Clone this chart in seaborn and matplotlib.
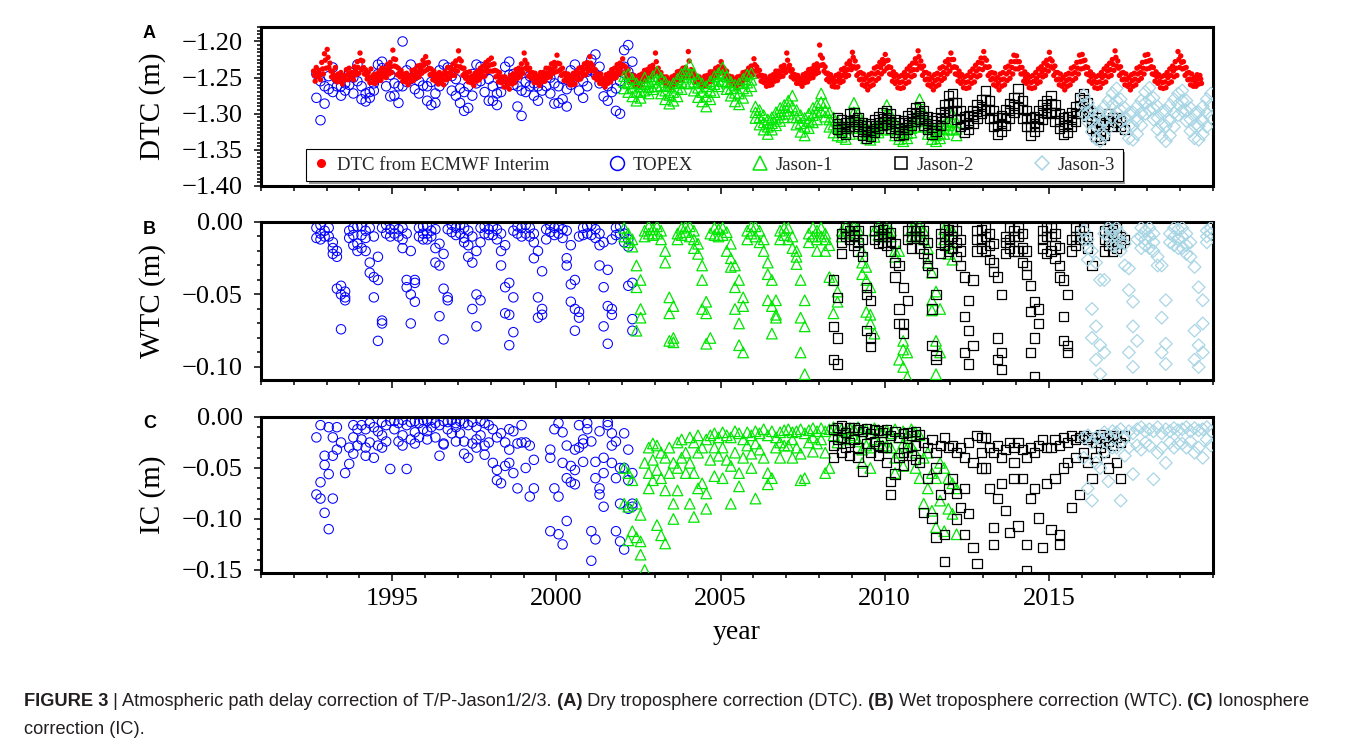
import numpy as np
import pandas as pd
import matplotlib
matplotlib.use("Agg")
import matplotlib.pyplot as plt
from matplotlib.lines import Line2D
from matplotlib.ticker import FixedLocator, MultipleLocator, FuncFormatter
import seaborn as sns

nan = np.nan

# ---------------- data ----------------
# ECMWF dry troposphere: one row per year, 12 monthly values, three samples per month
ecmwf_years = list(range(1992, 2020))
dtc_ecmwf_hi = [
    [nan, nan, nan, nan, nan, nan, nan, -1.241, -1.236, -1.240, -1.229, -1.217],
    [-1.211, -1.230, -1.241, -1.236, -1.245, -1.243, -1.247, -1.239, -1.237, -1.243, -1.235, -1.228],
    [-1.216, -1.227, -1.239, -1.243, -1.238, -1.246, -1.245, -1.241, -1.237, -1.238, -1.232, -1.229],
    [-1.212, -1.225, -1.237, -1.240, -1.245, -1.244, -1.247, -1.240, -1.239, -1.234, -1.233, -1.226],
    [-1.221, -1.229, -1.238, -1.241, -1.246, -1.243, -1.247, -1.242, -1.236, -1.236, -1.231, -1.227],
    [-1.213, -1.227, -1.237, -1.243, -1.242, -1.248, -1.244, -1.241, -1.237, -1.234, -1.229, -1.226],
    [-1.223, -1.231, -1.241, -1.243, -1.249, -1.249, -1.253, -1.247, -1.245, -1.239, -1.237, -1.231],
    [-1.216, -1.231, -1.237, -1.243, -1.244, -1.248, -1.243, -1.243, -1.237, -1.237, -1.231, -1.229],
    [-1.219, -1.231, -1.237, -1.244, -1.245, -1.249, -1.244, -1.242, -1.237, -1.236, -1.231, -1.229],
    [-1.221, -1.233, -1.239, -1.245, -1.245, -1.251, -1.246, -1.244, -1.239, -1.237, -1.232, -1.230],
    [-1.224, -1.235, -1.239, -1.246, -1.247, -1.251, -1.247, -1.245, -1.240, -1.239, -1.235, -1.233],
    [-1.216, -1.237, -1.243, -1.249, -1.249, -1.253, -1.249, -1.247, -1.242, -1.241, -1.237, -1.236],
    [-1.214, -1.239, -1.243, -1.248, -1.249, -1.253, -1.248, -1.247, -1.242, -1.242, -1.237, -1.235],
    [-1.228, -1.237, -1.241, -1.248, -1.249, -1.253, -1.249, -1.248, -1.243, -1.242, -1.237, -1.234],
    [-1.224, -1.235, -1.240, -1.247, -1.248, -1.252, -1.248, -1.246, -1.241, -1.241, -1.235, -1.233],
    [-1.216, -1.233, -1.239, -1.246, -1.247, -1.251, -1.246, -1.244, -1.239, -1.238, -1.233, -1.231],
    [-1.205, -1.223, -1.235, -1.244, -1.246, -1.251, -1.247, -1.245, -1.239, -1.237, -1.231, -1.227],
    [-1.215, -1.227, -1.235, -1.243, -1.245, -1.250, -1.246, -1.244, -1.237, -1.235, -1.229, -1.225],
    [-1.218, -1.226, -1.236, -1.242, -1.246, -1.249, -1.247, -1.243, -1.238, -1.234, -1.230, -1.224],
    [-1.213, -1.227, -1.234, -1.243, -1.245, -1.250, -1.246, -1.244, -1.237, -1.235, -1.228, -1.225],
    [-1.216, -1.225, -1.236, -1.241, -1.246, -1.249, -1.247, -1.242, -1.238, -1.233, -1.229, -1.223],
    [-1.214, -1.226, -1.235, -1.243, -1.244, -1.250, -1.245, -1.243, -1.236, -1.234, -1.228, -1.219],
    [-1.220, -1.228, -1.236, -1.242, -1.246, -1.249, -1.247, -1.243, -1.238, -1.235, -1.230, -1.226],
    [-1.215, -1.227, -1.234, -1.243, -1.245, -1.250, -1.246, -1.244, -1.237, -1.235, -1.229, -1.219],
    [-1.218, -1.226, -1.236, -1.242, -1.246, -1.249, -1.247, -1.243, -1.238, -1.234, -1.230, -1.225],
    [-1.213, -1.227, -1.235, -1.243, -1.245, -1.250, -1.246, -1.244, -1.237, -1.235, -1.229, -1.219],
    [-1.218, -1.226, -1.236, -1.242, -1.246, -1.249, -1.247, -1.243, -1.238, -1.234, -1.228, -1.214],
    [-1.220, -1.228, -1.236, -1.243, -1.245, -1.250, -1.246, -1.247, nan, nan, nan, nan],
]
dtc_ecmwf_mid = [
    [nan, nan, nan, nan, nan, nan, nan, -1.247, -1.244, -1.246, -1.238, -1.226],
    [-1.222, -1.241, -1.246, -1.249, -1.250, -1.252, -1.248, -1.246, -1.244, -1.247, -1.241, -1.236],
    [-1.226, -1.236, -1.246, -1.250, -1.249, -1.252, -1.250, -1.247, -1.244, -1.243, -1.239, -1.235],
    [-1.224, -1.235, -1.244, -1.247, -1.251, -1.252, -1.250, -1.247, -1.245, -1.242, -1.238, -1.233],
    [-1.230, -1.237, -1.245, -1.248, -1.252, -1.250, -1.253, -1.247, -1.244, -1.241, -1.239, -1.234],
    [-1.224, -1.237, -1.244, -1.249, -1.250, -1.254, -1.250, -1.247, -1.243, -1.241, -1.236, -1.233],
    [-1.232, -1.240, -1.248, -1.250, -1.256, -1.256, -1.259, -1.253, -1.251, -1.245, -1.243, -1.238],
    [-1.226, -1.239, -1.244, -1.250, -1.251, -1.254, -1.250, -1.249, -1.244, -1.243, -1.238, -1.235],
    [-1.230, -1.239, -1.245, -1.250, -1.252, -1.255, -1.251, -1.248, -1.244, -1.242, -1.238, -1.235],
    [-1.230, -1.241, -1.246, -1.251, -1.252, -1.257, -1.252, -1.250, -1.245, -1.244, -1.239, -1.237],
    [-1.233, -1.242, -1.247, -1.252, -1.254, -1.256, -1.254, -1.250, -1.247, -1.244, -1.242, -1.238],
    [-1.228, -1.245, -1.249, -1.254, -1.255, -1.258, -1.254, -1.253, -1.248, -1.247, -1.243, -1.242],
    [-1.227, -1.244, -1.250, -1.252, -1.256, -1.257, -1.254, -1.251, -1.248, -1.246, -1.243, -1.240],
    [-1.235, -1.244, -1.248, -1.253, -1.255, -1.258, -1.254, -1.253, -1.248, -1.247, -1.243, -1.240],
    [-1.232, -1.241, -1.247, -1.252, -1.255, -1.256, -1.254, -1.250, -1.247, -1.245, -1.241, -1.238],
    [-1.226, -1.241, -1.245, -1.252, -1.252, -1.256, -1.252, -1.250, -1.245, -1.244, -1.239, -1.237],
    [-1.219, -1.232, -1.244, -1.250, -1.254, -1.257, -1.255, -1.251, -1.247, -1.243, -1.239, -1.233],
    [-1.222, -1.237, -1.244, -1.252, -1.253, -1.259, -1.254, -1.252, -1.245, -1.243, -1.236, -1.231],
    [-1.227, -1.235, -1.246, -1.249, -1.255, -1.257, -1.256, -1.250, -1.247, -1.241, -1.239, -1.230],
    [-1.221, -1.237, -1.243, -1.252, -1.253, -1.259, -1.254, -1.252, -1.246, -1.243, -1.237, -1.232],
    [-1.225, -1.235, -1.246, -1.249, -1.255, -1.257, -1.256, -1.250, -1.247, -1.241, -1.238, -1.230],
    [-1.223, -1.236, -1.244, -1.251, -1.253, -1.258, -1.253, -1.252, -1.245, -1.242, -1.236, -1.228],
    [-1.228, -1.236, -1.245, -1.250, -1.255, -1.257, -1.255, -1.251, -1.247, -1.242, -1.239, -1.233],
    [-1.224, -1.237, -1.243, -1.252, -1.253, -1.259, -1.254, -1.252, -1.245, -1.243, -1.237, -1.228],
    [-1.227, -1.235, -1.246, -1.249, -1.255, -1.257, -1.256, -1.250, -1.247, -1.241, -1.239, -1.232],
    [-1.222, -1.237, -1.244, -1.252, -1.253, -1.259, -1.254, -1.252, -1.245, -1.243, -1.237, -1.228],
    [-1.227, -1.235, -1.246, -1.249, -1.255, -1.257, -1.256, -1.250, -1.247, -1.241, -1.237, -1.225],
    [-1.229, -1.237, -1.244, -1.252, -1.253, -1.256, -1.252, -1.252, nan, nan, nan, nan],
]
dtc_ecmwf_lo = [
    [nan, nan, nan, nan, nan, nan, nan, -1.255, -1.249, -1.253, -1.245, -1.237],
    [-1.236, -1.249, -1.253, -1.256, -1.255, -1.259, -1.253, -1.253, -1.249, -1.253, -1.246, -1.244],
    [-1.239, -1.245, -1.252, -1.257, -1.257, -1.258, -1.254, -1.254, -1.249, -1.250, -1.245, -1.243],
    [-1.234, -1.246, -1.249, -1.255, -1.256, -1.260, -1.255, -1.254, -1.250, -1.249, -1.244, -1.241],
    [-1.239, -1.246, -1.253, -1.255, -1.259, -1.256, -1.260, -1.253, -1.251, -1.247, -1.247, -1.241],
    [-1.235, -1.247, -1.251, -1.256, -1.257, -1.261, -1.255, -1.253, -1.249, -1.248, -1.242, -1.241],
    [-1.241, -1.249, -1.256, -1.257, -1.263, -1.263, -1.266, -1.259, -1.257, -1.251, -1.249, -1.244],
    [-1.237, -1.248, -1.251, -1.257, -1.257, -1.261, -1.256, -1.255, -1.250, -1.249, -1.244, -1.242],
    [-1.241, -1.247, -1.254, -1.255, -1.260, -1.260, -1.259, -1.253, -1.252, -1.247, -1.246, -1.241],
    [-1.239, -1.250, -1.253, -1.258, -1.259, -1.263, -1.258, -1.256, -1.251, -1.250, -1.245, -1.244],
    [-1.243, -1.249, -1.255, -1.257, -1.262, -1.261, -1.261, -1.255, -1.254, -1.249, -1.249, -1.244],
    [-1.239, -1.253, -1.255, -1.260, -1.261, -1.264, -1.260, -1.259, -1.254, -1.253, -1.249, -1.248],
    [-1.241, -1.249, -1.256, -1.257, -1.262, -1.261, -1.261, -1.256, -1.255, -1.250, -1.249, -1.244],
    [-1.241, -1.251, -1.254, -1.259, -1.260, -1.264, -1.259, -1.258, -1.253, -1.253, -1.248, -1.246],
    [-1.241, -1.248, -1.255, -1.257, -1.262, -1.261, -1.260, -1.255, -1.254, -1.249, -1.248, -1.243],
    [-1.237, -1.249, -1.252, -1.258, -1.258, -1.262, -1.257, -1.256, -1.251, -1.250, -1.245, -1.243],
    [-1.233, -1.241, -1.253, -1.256, -1.262, -1.263, -1.263, -1.257, -1.255, -1.249, -1.247, -1.239],
    [-1.235, -1.247, -1.253, -1.260, -1.262, -1.267, -1.262, -1.260, -1.254, -1.251, -1.245, -1.241],
    [-1.237, -1.245, -1.255, -1.258, -1.264, -1.265, -1.264, -1.258, -1.256, -1.249, -1.247, -1.239],
    [-1.234, -1.247, -1.253, -1.260, -1.262, -1.267, -1.262, -1.260, -1.254, -1.251, -1.245, -1.241],
    [-1.236, -1.245, -1.255, -1.258, -1.264, -1.265, -1.264, -1.258, -1.256, -1.249, -1.247, -1.239],
    [-1.235, -1.247, -1.253, -1.260, -1.262, -1.267, -1.262, -1.260, -1.254, -1.251, -1.245, -1.238],
    [-1.238, -1.245, -1.255, -1.258, -1.264, -1.265, -1.264, -1.258, -1.256, -1.249, -1.247, -1.241],
    [-1.235, -1.247, -1.253, -1.260, -1.262, -1.267, -1.262, -1.260, -1.254, -1.251, -1.245, -1.238],
    [-1.237, -1.245, -1.255, -1.258, -1.264, -1.265, -1.264, -1.258, -1.256, -1.249, -1.247, -1.240],
    [-1.234, -1.247, -1.253, -1.260, -1.262, -1.267, -1.262, -1.260, -1.254, -1.251, -1.245, -1.238],
    [-1.237, -1.245, -1.255, -1.258, -1.264, -1.265, -1.264, -1.258, -1.256, -1.249, -1.247, -1.236],
    [-1.238, -1.247, -1.253, -1.260, -1.262, -1.262, -1.259, -1.258, nan, nan, nan, nan],
]

# altimeter series: one row per year, 8 samples per year
topex_years = list(range(1992, 2003))
jason1_years = list(range(2002, 2013))
jason2_years = list(range(2008, 2018))
jason3_years = list(range(2016, 2020))

topex_dtc_a = [
    [nan, nan, nan, nan, nan, -1.245, -1.255, -1.262],
    [-1.248, -1.236, -1.252, -1.262, -1.258, -1.242, -1.250, -1.232],
    [-1.262, -1.272, -1.278, -1.258, -1.232, -1.228, -1.240, -1.246],
    [-1.258, -1.262, -1.200, -1.240, -1.232, -1.248, -1.255, -1.236],
    [-1.262, -1.256, -1.272, -1.240, -1.232, -1.236, -1.248, -1.252],
    [-1.265, -1.270, -1.262, -1.245, -1.232, -1.235, -1.242, -1.252],
    [-1.262, -1.272, -1.258, -1.235, -1.228, -1.245, -1.262, -1.268],
    [-1.256, -1.248, -1.258, -1.262, -1.252, -1.245, -1.250, -1.258],
    [-1.262, -1.252, -1.266, -1.240, -1.232, -1.248, -1.255, -1.242],
    [-1.225, -1.218, -1.235, -1.255, -1.262, -1.248, -1.265, -1.255],
    [-1.212, -1.205, -1.228, nan, nan, nan, nan, nan],
]
topex_dtc_b = [
    [nan, nan, nan, nan, nan, -1.278, -1.309, -1.286],
    [-1.266, -1.270, -1.262, -1.275, -1.268, -1.260, -1.272, -1.255],
    [-1.280, -1.283, -1.270, -1.268, -1.245, -1.237, -1.262, -1.276],
    [-1.275, -1.285, -1.262, -1.256, -1.252, -1.266, -1.272, -1.261],
    [-1.282, -1.288, -1.285, -1.262, -1.255, -1.244, -1.268, -1.275],
    [-1.285, -1.296, -1.292, -1.275, -1.258, -1.255, -1.270, -1.282],
    [-1.282, -1.288, -1.270, -1.255, -1.246, -1.260, -1.290, -1.303],
    [-1.270, -1.262, -1.275, -1.282, -1.268, -1.262, -1.272, -1.286],
    [-1.285, -1.280, -1.290, -1.260, -1.248, -1.268, -1.278, -1.262],
    [-1.240, -1.245, -1.258, -1.276, -1.282, -1.270, -1.296, -1.300],
    [-1.235, -1.242, -1.250, nan, nan, nan, nan, nan],
]
jason1_dtc_a = [
    [-1.248, -1.245, -1.252, -1.258, -1.262, -1.250, -1.255, -1.248],
    [-1.242, -1.250, -1.256, -1.262, -1.258, -1.252, -1.245, -1.240],
    [-1.232, -1.245, -1.252, -1.258, -1.262, -1.255, -1.248, -1.244],
    [-1.236, -1.248, -1.256, -1.260, -1.258, -1.252, -1.246, -1.244],
    [-1.290, -1.295, -1.302, -1.308, -1.305, -1.298, -1.292, -1.288],
    [-1.282, -1.275, -1.295, -1.302, -1.306, -1.300, -1.292, -1.288],
    [-1.272, -1.285, -1.298, -1.305, -1.310, -1.315, -1.318, -1.312],
    [-1.285, -1.300, -1.310, -1.318, -1.322, -1.318, -1.315, -1.310],
    [-1.288, -1.302, -1.312, -1.318, -1.322, -1.320, -1.314, -1.305],
    [-1.280, -1.298, -1.310, -1.318, -1.322, -1.320, -1.315, -1.310],
    [-1.300, -1.312, nan, nan, nan, nan, nan, nan],
]
jason1_dtc_b = [
    [-1.265, -1.270, -1.276, -1.282, -1.278, -1.268, -1.272, -1.266],
    [-1.262, -1.272, -1.280, -1.286, -1.282, -1.276, -1.266, -1.258],
    [-1.258, -1.268, -1.277, -1.283, -1.290, -1.280, -1.270, -1.262],
    [-1.255, -1.266, -1.275, -1.283, -1.287, -1.278, -1.268, -1.262],
    [-1.306, -1.315, -1.322, -1.328, -1.322, -1.316, -1.310, -1.305],
    [-1.300, -1.305, -1.315, -1.325, -1.330, -1.320, -1.312, -1.308],
    [-1.296, -1.304, -1.318, -1.326, -1.330, -1.332, -1.335, -1.328],
    [-1.312, -1.320, -1.328, -1.334, -1.336, -1.332, -1.326, -1.322],
    [-1.310, -1.322, -1.330, -1.335, -1.338, -1.334, -1.326, -1.318],
    [-1.305, -1.318, -1.328, -1.335, -1.338, -1.334, -1.328, -1.322],
    [-1.322, -1.330, nan, nan, nan, nan, nan, nan],
]
jason1_dtc_c = [
    [-1.256, -1.258, -1.264, -1.270, -1.270, -1.259, -1.263, -1.257],
    [-1.252, -1.261, -1.268, -1.274, -1.270, -1.264, -1.256, -1.249],
    [-1.245, -1.256, -1.264, -1.270, -1.276, -1.268, -1.259, -1.253],
    [-1.246, -1.257, -1.265, -1.271, -1.272, -1.265, -1.257, -1.253],
    [-1.298, -1.305, -1.312, -1.318, -1.313, -1.307, -1.301, -1.296],
    [-1.291, -1.290, -1.305, -1.313, -1.318, -1.310, -1.302, -1.298],
    [-1.284, -1.295, -1.308, -1.315, -1.320, -1.323, -1.326, -1.320],
    [-1.298, -1.310, -1.319, -1.326, -1.329, -1.325, -1.320, -1.316],
    [-1.299, -1.312, -1.321, -1.326, -1.330, -1.327, -1.320, -1.311],
    [-1.292, -1.308, -1.319, -1.326, -1.330, -1.327, -1.321, -1.316],
    [-1.311, -1.321, nan, nan, nan, nan, nan, nan],
]
jason2_dtc_a = [
    [nan, nan, nan, nan, -1.305, -1.308, -1.312, -1.300],
    [-1.298, -1.305, -1.312, -1.316, -1.314, -1.308, -1.304, -1.298],
    [-1.296, -1.300, -1.308, -1.312, -1.310, -1.302, -1.298, -1.292],
    [-1.290, -1.296, -1.304, -1.310, -1.306, -1.298, -1.288, -1.275],
    [-1.272, -1.285, -1.296, -1.304, -1.302, -1.295, -1.288, -1.280],
    [-1.268, -1.282, -1.295, -1.305, -1.302, -1.294, -1.286, -1.278],
    [-1.265, -1.282, -1.296, -1.306, -1.304, -1.296, -1.288, -1.282],
    [-1.275, -1.288, -1.300, -1.306, -1.304, -1.298, -1.290, -1.278],
    [-1.272, -1.285, -1.298, -1.305, -1.312, nan, -1.300, nan],
    [-1.305, -1.310, -1.322, nan, nan, nan, nan, nan],
]
jason2_dtc_b = [
    [nan, nan, nan, nan, -1.322, -1.326, -1.328, -1.318],
    [-1.318, -1.324, -1.330, -1.334, -1.332, -1.326, -1.320, -1.316],
    [-1.315, -1.320, -1.326, -1.330, -1.328, -1.322, -1.316, -1.310],
    [-1.308, -1.316, -1.322, -1.328, -1.324, -1.316, -1.306, -1.298],
    [-1.296, -1.308, -1.318, -1.326, -1.322, -1.314, -1.306, -1.300],
    [-1.295, -1.306, -1.318, -1.328, -1.324, -1.316, -1.306, -1.298],
    [-1.292, -1.306, -1.318, -1.330, -1.325, -1.318, -1.308, -1.300],
    [-1.298, -1.310, -1.320, -1.328, -1.326, -1.318, -1.310, -1.300],
    [-1.290, -1.304, -1.320, -1.332, -1.336, -1.330, nan, -1.318],
    [nan, nan, nan, nan, nan, nan, nan, nan],
]
jason2_dtc_c = [
    [nan, nan, nan, nan, -1.314, -1.318, -1.320, -1.310],
    [-1.308, -1.315, -1.321, -1.325, -1.323, -1.317, -1.312, -1.307],
    [-1.306, -1.311, -1.317, -1.321, -1.319, -1.312, -1.307, -1.300],
    [-1.299, -1.306, -1.313, -1.319, -1.315, -1.307, -1.297, -1.286],
    [-1.284, -1.296, -1.307, -1.315, -1.312, -1.304, -1.297, -1.290],
    [-1.281, -1.294, -1.306, -1.316, -1.313, -1.305, -1.296, -1.288],
    [-1.278, -1.294, -1.307, -1.318, -1.314, -1.307, -1.298, -1.291],
    [-1.286, -1.299, -1.310, -1.317, -1.315, -1.308, -1.300, -1.289],
    [-1.281, -1.295, -1.309, -1.318, -1.324, -1.315, -1.310, -1.305],
    [-1.312, -1.318, nan, nan, nan, nan, nan, nan],
]
jason3_dtc_a = [
    [-1.275, -1.285, -1.295, -1.300, -1.298, -1.290, -1.282, -1.272],
    [-1.265, -1.280, -1.292, -1.300, -1.298, -1.290, -1.282, -1.270],
    [-1.264, -1.278, -1.290, -1.298, -1.296, -1.288, -1.280, -1.272],
    [-1.268, -1.282, -1.292, -1.300, -1.298, -1.290, -1.280, -1.272],
]
jason3_dtc_b = [
    [-1.300, -1.312, -1.325, -1.335, -1.338, -1.330, -1.320, -1.305],
    [-1.298, -1.310, -1.322, -1.334, -1.336, -1.328, -1.316, -1.300],
    [-1.295, -1.308, -1.322, -1.332, -1.338, -1.330, -1.318, -1.302],
    [-1.296, -1.310, -1.324, -1.334, -1.336, -1.328, -1.318, -1.305],
]
jason3_dtc_c = [
    [-1.288, -1.298, -1.310, -1.318, -1.318, -1.310, -1.300, -1.288],
    [-1.282, -1.295, -1.307, -1.317, -1.317, -1.309, -1.299, -1.285],
    [-1.280, -1.293, -1.306, -1.315, -1.317, -1.309, -1.299, -1.287],
    [-1.282, -1.296, -1.308, -1.317, -1.317, -1.309, -1.299, -1.288],
]

topex_wtc_a = [
    [nan, nan, nan, nan, nan, -0.004, -0.002, -0.006],
    [-0.004, -0.014, -0.020, -0.044, -0.048, -0.006, -0.004, -0.003],
    [-0.003, -0.006, -0.004, -0.010, -0.024, -0.004, -0.002, -0.005],
    [-0.002, -0.005, -0.004, -0.008, -0.020, -0.040, -0.004, -0.003],
    [-0.003, -0.006, -0.005, -0.015, -0.022, -0.005, -0.002, -0.004],
    [-0.002, -0.004, -0.006, -0.010, -0.020, -0.004, -0.003, -0.005],
    [-0.003, -0.005, -0.008, -0.016, -0.042, -0.006, -0.003, -0.004],
    [-0.002, -0.004, -0.008, -0.020, -0.034, -0.005, -0.002, -0.004],
    [-0.003, -0.005, -0.006, -0.016, -0.040, -0.010, -0.004, -0.003],
    [-0.002, -0.005, -0.008, -0.014, -0.033, -0.012, -0.004, -0.003],
    [-0.008, -0.012, -0.042, nan, nan, nan, nan, nan],
]
topex_wtc_b = [
    [nan, nan, nan, nan, nan, -0.011, -0.008, -0.010],
    [-0.010, -0.018, -0.024, -0.050, -0.054, -0.011, -0.009, -0.015],
    [-0.009, -0.011, -0.028, -0.038, -0.040, -0.068, -0.008, -0.010],
    [-0.008, -0.010, -0.012, -0.040, -0.050, -0.055, -0.010, -0.008],
    [-0.008, -0.010, -0.018, -0.030, -0.046, -0.052, -0.007, -0.009],
    [-0.008, -0.011, -0.016, -0.028, -0.050, -0.014, -0.008, -0.009],
    [-0.009, -0.012, -0.020, -0.045, -0.064, -0.052, -0.008, -0.010],
    [-0.008, -0.010, -0.014, -0.052, -0.060, -0.012, -0.007, -0.009],
    [-0.008, -0.011, -0.025, -0.043, -0.060, -0.062, -0.009, -0.008],
    [-0.009, -0.011, -0.016, -0.045, -0.058, -0.060, -0.009, -0.008],
    [-0.014, -0.017, -0.067, nan, nan, nan, nan, nan],
]
topex_wtc_c = [
    [nan, nan, nan, nan, nan, nan, -0.012, nan],
    [nan, -0.022, -0.046, -0.074, -0.052, nan, -0.016, -0.020],
    [-0.018, -0.020, -0.035, -0.052, -0.082, -0.070, nan, nan],
    [nan, nan, -0.018, -0.045, -0.070, -0.042, nan, -0.012],
    [-0.012, nan, -0.028, -0.065, -0.081, -0.054, nan, nan],
    [nan, -0.014, -0.024, -0.060, -0.072, -0.054, nan, nan],
    [nan, nan, -0.030, -0.063, -0.085, -0.076, nan, nan],
    [nan, nan, -0.025, -0.066, -0.064, nan, nan, nan],
    [nan, nan, -0.030, -0.055, -0.075, -0.066, nan, nan],
    [nan, nan, -0.030, -0.072, -0.084, -0.064, nan, nan],
    [nan, -0.044, -0.075, nan, nan, nan, nan, nan],
]
jason1_wtc_a = [
    [-0.004, -0.008, -0.012, -0.030, -0.040, -0.006, -0.003, -0.005],
    [-0.003, -0.006, -0.020, -0.052, -0.058, -0.008, -0.004, -0.003],
    [-0.003, -0.006, -0.015, -0.030, -0.055, -0.008, -0.004, -0.005],
    [-0.004, -0.007, -0.015, -0.030, -0.040, -0.052, -0.006, -0.003],
    [-0.003, -0.006, -0.012, -0.028, -0.040, -0.054, -0.006, -0.004],
    [-0.004, -0.010, -0.020, -0.040, -0.054, -0.008, -0.004, -0.006],
    [-0.004, -0.008, -0.016, -0.040, -0.055, -0.006, -0.003, -0.004],
    [-0.003, -0.005, -0.020, -0.031, -0.045, -0.006, -0.003, -0.005],
    [-0.004, -0.006, -0.020, -0.020, -0.082, -0.090, -0.005, -0.004],
    [-0.003, -0.006, -0.018, -0.035, -0.048, -0.060, -0.005, -0.006],
    [-0.006, nan, nan, nan, nan, nan, nan, nan],
]
jason1_wtc_b = [
    [-0.010, -0.014, -0.017, -0.045, -0.060, -0.010, -0.008, -0.009],
    [-0.008, -0.012, -0.028, -0.063, -0.080, -0.012, -0.009, -0.007],
    [-0.010, -0.012, -0.022, -0.040, -0.063, -0.080, -0.009, -0.010],
    [-0.009, -0.020, -0.025, -0.045, -0.070, -0.058, -0.012, -0.008],
    [-0.010, -0.014, -0.020, -0.036, -0.058, -0.066, -0.012, -0.009],
    [-0.012, -0.018, -0.029, -0.066, -0.072, -0.014, -0.010, -0.012],
    [-0.010, -0.012, -0.038, -0.063, -0.048, -0.010, -0.008, -0.007],
    [-0.008, -0.010, -0.028, -0.062, -0.070, -0.077, -0.009, -0.010],
    [-0.008, -0.010, -0.024, -0.095, -0.100, -0.107, -0.010, -0.009],
    [-0.010, -0.012, -0.028, -0.054, -0.082, -0.090, -0.012, -0.015],
    [-0.018, nan, nan, nan, nan, nan, nan, nan],
]
jason1_wtc_c = [
    [nan, nan, nan, -0.075, -0.066, nan, nan, nan],
    [nan, nan, nan, -0.082, -0.083, nan, nan, nan],
    [nan, -0.018, nan, -0.060, -0.084, nan, nan, nan],
    [nan, nan, -0.031, -0.060, -0.085, -0.090, nan, nan],
    [nan, nan, nan, -0.054, -0.077, -0.064, nan, nan],
    [nan, nan, -0.024, -0.090, -0.105, nan, nan, -0.020],
    [nan, -0.020, nan, nan, nan, nan, nan, nan],
    [nan, nan, -0.036, -0.040, -0.064, nan, nan, nan],
    [nan, nan, nan, nan, -0.088, nan, nan, nan],
    [nan, nan, nan, -0.061, -0.105, nan, nan, -0.022],
    [-0.026, nan, nan, nan, nan, nan, nan, nan],
]
jason2_wtc_a = [
    [nan, nan, nan, -0.040, -0.052, -0.008, -0.004, -0.006],
    [-0.003, -0.006, -0.012, -0.045, -0.054, -0.006, -0.004, -0.005],
    [-0.004, -0.007, -0.015, -0.030, -0.045, -0.006, -0.004, -0.006],
    [-0.004, -0.006, -0.014, -0.035, -0.050, -0.008, -0.004, -0.005],
    [-0.004, -0.006, -0.012, -0.038, -0.054, -0.040, -0.006, -0.005],
    [-0.004, -0.008, -0.015, -0.038, -0.050, -0.010, -0.004, -0.006],
    [-0.004, -0.008, -0.020, -0.044, -0.055, -0.060, -0.006, -0.004],
    [-0.004, -0.008, -0.018, -0.040, -0.050, -0.012, -0.004, -0.006],
    [-0.004, -0.010, -0.030, nan, nan, -0.006, -0.004, -0.005],
    [-0.004, -0.010, -0.012, nan, nan, nan, nan, nan],
]
jason2_wtc_b = [
    [nan, nan, nan, -0.072, -0.080, -0.014, -0.010, -0.012],
    [-0.009, -0.014, -0.024, -0.075, -0.086, -0.012, -0.010, -0.008],
    [-0.010, -0.014, -0.028, -0.060, -0.070, -0.012, -0.010, -0.010],
    [-0.010, -0.012, -0.025, -0.085, -0.092, -0.014, -0.010, -0.012],
    [-0.010, -0.014, -0.020, -0.065, -0.075, -0.085, -0.012, -0.012],
    [-0.010, -0.016, -0.028, -0.080, -0.090, -0.014, -0.012, -0.010],
    [-0.010, -0.018, -0.030, -0.062, -0.080, -0.070, -0.012, -0.010],
    [-0.010, -0.016, -0.030, -0.065, -0.085, -0.020, -0.010, -0.012],
    [-0.012, -0.018, nan, nan, nan, -0.012, -0.010, -0.008],
    [-0.010, -0.015, nan, nan, nan, nan, nan, nan],
]
jason2_wtc_c = [
    [nan, nan, nan, -0.095, -0.098, -0.022, nan, nan],
    [-0.016, -0.020, nan, -0.050, -0.080, nan, -0.015, -0.014],
    [-0.016, -0.020, -0.038, -0.070, -0.077, -0.054, -0.018, nan],
    [-0.018, -0.022, -0.030, -0.060, -0.095, -0.022, -0.016, -0.020],
    [-0.018, -0.024, -0.030, -0.090, -0.098, nan, -0.020, -0.018],
    [-0.020, -0.026, -0.034, -0.095, -0.102, -0.022, -0.018, -0.020],
    [-0.020, -0.028, -0.036, -0.090, -0.107, nan, -0.018, -0.022],
    [-0.020, -0.025, -0.038, -0.082, -0.090, nan, -0.016, nan],
    [nan, nan, nan, nan, nan, -0.020, -0.016, -0.020],
    [-0.018, nan, nan, nan, nan, nan, nan, nan],
]
jason3_wtc_a = [
    [-0.006, -0.012, -0.020, -0.028, -0.040, -0.008, -0.004, -0.006],
    [-0.004, -0.008, -0.015, -0.032, -0.055, -0.012, -0.004, -0.006],
    [-0.004, -0.008, -0.024, -0.030, -0.054, -0.008, -0.004, -0.005],
    [-0.004, -0.008, -0.014, -0.031, -0.045, -0.054, -0.006, -0.004],
]
jason3_wtc_b = [
    [-0.012, -0.018, -0.060, -0.072, -0.085, -0.040, -0.010, -0.010],
    [-0.010, -0.014, -0.030, -0.047, -0.072, -0.082, -0.010, -0.012],
    [-0.010, -0.014, -0.030, -0.066, -0.084, -0.014, -0.010, -0.012],
    [-0.010, -0.016, -0.024, -0.075, -0.085, -0.070, -0.010, -0.008],
]
jason3_wtc_c = [
    [nan, -0.026, -0.080, -0.095, -0.105, -0.090, nan, -0.016],
    [-0.016, -0.020, nan, -0.090, -0.100, nan, -0.018, -0.016],
    [-0.018, -0.020, nan, -0.090, -0.098, nan, -0.016, -0.018],
    [-0.018, -0.022, nan, -0.095, -0.100, -0.090, -0.014, nan],
]

topex_ic_a = [
    [nan, nan, nan, nan, nan, -0.020, -0.008, -0.038],
    [-0.010, -0.020, -0.010, -0.025, -0.055, -0.030, -0.008, -0.012],
    [-0.008, -0.012, -0.006, -0.010, -0.014, -0.005, -0.008, -0.004],
    [-0.004, -0.006, -0.003, -0.008, -0.005, -0.004, -0.006, -0.003],
    [-0.004, -0.003, -0.006, -0.008, -0.004, -0.005, -0.003, -0.006],
    [-0.004, -0.006, -0.008, -0.005, -0.010, -0.004, -0.006, -0.008],
    [-0.012, -0.020, -0.016, -0.025, -0.012, -0.014, -0.026, -0.008],
    [-0.025, -0.028, -0.042, nan, nan, nan, -0.032, -0.012],
    [-0.006, -0.015, -0.028, -0.048, -0.032, -0.008, -0.022, -0.006],
    [-0.024, -0.044, -0.014, -0.040, -0.005, -0.016, -0.024, -0.050],
    [-0.016, -0.032, -0.055, nan, nan, nan, nan, nan],
]
topex_ic_b = [
    [nan, nan, nan, nan, nan, -0.076, -0.064, -0.094],
    [-0.056, -0.038, -0.032, nan, nan, -0.046, -0.020, -0.028],
    [-0.022, -0.030, -0.025, -0.040, -0.028, -0.018, -0.024, -0.051],
    [-0.012, -0.024, -0.018, -0.051, -0.022, -0.015, -0.020, -0.012],
    [-0.014, -0.010, -0.020, -0.038, -0.026, -0.012, -0.016, -0.010],
    [-0.016, -0.024, -0.040, -0.026, -0.022, -0.018, -0.028, -0.025],
    [-0.045, -0.052, -0.065, -0.048, -0.032, -0.055, -0.070, -0.025],
    [-0.050, -0.078, -0.070, nan, nan, nan, -0.040, -0.070],
    [-0.078, -0.045, -0.060, -0.064, -0.052, -0.030, -0.026, -0.012],
    [-0.112, -0.060, -0.070, -0.055, -0.008, -0.028, -0.060, -0.085],
    [-0.050, -0.062, -0.085, nan, nan, nan, nan, nan],
]
topex_ic_c = [
    [nan, nan, nan, nan, nan, nan, -0.080, -0.047],
    [-0.110, -0.080, nan, nan, nan, nan, -0.036, nan],
    [nan, -0.038, nan, nan, nan, -0.030, nan, nan],
    [nan, nan, -0.028, nan, nan, -0.026, nan, nan],
    [-0.022, nan, nan, nan, -0.027, nan, nan, -0.024],
    [nan, -0.036, nan, nan, -0.030, nan, -0.037, nan],
    [nan, -0.062, nan, nan, -0.045, nan, nan, nan],
    [nan, nan, nan, nan, nan, nan, -0.112, nan],
    [-0.115, -0.125, -0.102, nan, -0.066, nan, -0.044, nan],
    [-0.141, -0.120, -0.076, -0.088, nan, -0.045, -0.112, -0.122],
    [-0.130, -0.090, -0.088, nan, nan, nan, nan, nan],
]
jason1_ic_a = [
    [-0.050, -0.055, -0.062, -0.085, -0.096, -0.045, -0.030, -0.026],
    [-0.028, -0.035, -0.040, -0.030, -0.045, -0.025, -0.022, -0.035],
    [-0.020, -0.025, -0.018, -0.030, -0.022, -0.018, -0.016, -0.020],
    [-0.015, -0.018, -0.020, -0.014, -0.016, -0.022, -0.015, -0.018],
    [-0.014, -0.016, -0.012, -0.018, -0.014, -0.020, -0.015, -0.013],
    [-0.012, -0.015, -0.014, -0.012, -0.016, -0.013, -0.011, -0.014],
    [-0.011, -0.014, -0.012, -0.010, -0.013, -0.012, -0.014, -0.011],
    [-0.012, -0.010, -0.014, -0.012, -0.016, -0.011, -0.013, -0.015],
    [-0.013, -0.016, -0.012, -0.020, -0.014, -0.018, -0.012, -0.015],
    [-0.018, -0.040, -0.035, -0.055, -0.060, -0.045, -0.050, -0.060],
    [-0.065, -0.070, nan, nan, nan, nan, nan, nan],
]
jason1_ic_b = [
    [-0.085, -0.088, -0.112, -0.118, -0.135, -0.150, -0.055, -0.042],
    [-0.052, -0.060, -0.072, -0.055, -0.085, -0.050, -0.040, -0.055],
    [-0.045, -0.055, -0.035, -0.065, -0.075, -0.042, -0.030, -0.038],
    [-0.030, -0.042, -0.048, -0.035, -0.055, -0.040, -0.028, -0.036],
    [-0.026, -0.032, -0.040, -0.055, -0.060, -0.030, -0.025, -0.028],
    [-0.028, -0.022, -0.030, -0.036, -0.060, -0.025, -0.020, -0.026],
    [-0.022, -0.035, -0.050, -0.018, -0.025, -0.020, -0.022, -0.018],
    [-0.020, -0.024, -0.032, -0.028, -0.030, -0.022, -0.026, -0.028],
    [-0.028, -0.030, -0.040, -0.035, -0.026, -0.030, -0.028, -0.035],
    [-0.060, -0.085, -0.070, -0.092, -0.108, -0.082, -0.112, -0.090],
    [-0.095, -0.115, nan, nan, nan, nan, nan, nan],
]
jason1_ic_c = [
    [nan, -0.121, nan, nan, -0.122, nan, -0.070, -0.062],
    [-0.106, -0.116, -0.124, nan, -0.100, -0.072, nan, nan],
    [-0.085, -0.098, -0.070, nan, -0.090, nan, -0.058, nan],
    [-0.060, nan, -0.085, nan, -0.068, nan, nan, -0.050],
    [-0.080, nan, nan, -0.066, nan, nan, -0.040, nan],
    [nan, -0.040, nan, -0.062, nan, nan, -0.034, nan],
    [nan, -0.055, nan, nan, nan, nan, nan, nan],
    [nan, nan, -0.045, nan, -0.050, nan, nan, nan],
    [nan, nan, -0.055, nan, -0.048, nan, nan, -0.050],
    [nan, nan, nan, nan, nan, nan, nan, nan],
    [nan, nan, nan, nan, nan, nan, nan, nan],
]
jason2_ic_a = [
    [nan, nan, nan, -0.012, -0.010, -0.008, -0.015, -0.010],
    [-0.010, -0.012, -0.014, -0.011, -0.016, -0.012, -0.013, -0.015],
    [-0.012, -0.018, -0.014, -0.020, -0.016, -0.015, -0.018, -0.014],
    [-0.017, -0.025, -0.030, -0.022, -0.035, -0.028, -0.020, -0.030],
    [-0.028, -0.035, -0.030, -0.040, -0.025, -0.045, -0.018, -0.020],
    [-0.020, -0.030, -0.035, -0.028, -0.040, -0.032, -0.025, -0.030],
    [-0.025, -0.032, -0.040, -0.030, -0.035, -0.028, -0.022, -0.030],
    [-0.030, -0.022, -0.028, -0.020, -0.025, -0.018, -0.022, -0.020],
    [-0.018, -0.022, -0.020, -0.025, -0.017, -0.020, -0.024, -0.018],
    [-0.020, -0.025, -0.018, nan, nan, nan, nan, nan],
]
jason2_ic_b = [
    [nan, nan, nan, -0.028, -0.022, -0.020, -0.030, -0.025],
    [-0.022, -0.030, -0.053, -0.026, -0.035, -0.024, -0.028, -0.030],
    [-0.030, -0.063, -0.056, -0.040, -0.035, -0.030, -0.038, -0.028],
    [-0.045, -0.094, -0.060, -0.099, -0.050, -0.076, -0.115, -0.070],
    [-0.060, -0.075, -0.089, -0.070, -0.095, -0.128, -0.144, -0.050],
    [-0.050, -0.070, -0.108, -0.080, -0.065, -0.092, -0.113, -0.060],
    [-0.107, -0.060, -0.151, -0.080, -0.070, -0.099, -0.128, -0.065],
    [-0.110, -0.060, -0.115, -0.050, -0.045, -0.089, -0.040, -0.076],
    [-0.035, -0.045, -0.060, -0.040, -0.030, -0.035, -0.050, -0.028],
    [-0.045, -0.060, nan, nan, nan, nan, nan, nan],
]
jason2_ic_c = [
    [nan, nan, nan, -0.040, nan, -0.035, nan, -0.038],
    [nan, -0.040, nan, nan, nan, nan, -0.038, nan],
    [-0.045, -0.076, nan, nan, -0.047, nan, nan, -0.042],
    [nan, nan, nan, nan, -0.118, nan, -0.142, nan],
    [nan, -0.100, nan, -0.115, nan, nan, nan, -0.035],
    [nan, nan, -0.125, nan, nan, nan, nan, -0.045],
    [nan, nan, -0.125, nan, nan, nan, nan, nan],
    [nan, nan, -0.125, nan, nan, nan, nan, nan],
    [nan, nan, nan, nan, nan, nan, nan, nan],
    [nan, nan, nan, nan, nan, nan, nan, nan],
]
jason3_ic_a = [
    [-0.020, -0.018, -0.025, -0.020, -0.022, -0.015, -0.018, -0.014],
    [-0.015, -0.012, -0.020, -0.014, -0.016, -0.012, -0.010, -0.014],
    [-0.012, -0.014, -0.010, -0.016, -0.012, -0.014, -0.011, -0.013],
    [-0.012, -0.010, -0.014, -0.011, -0.013, -0.012, -0.010, -0.014],
]
jason3_ic_b = [
    [-0.040, -0.070, -0.082, -0.045, -0.050, -0.035, -0.063, -0.030],
    [-0.030, -0.082, -0.038, -0.030, -0.056, -0.028, -0.032, -0.025],
    [-0.028, -0.061, -0.035, -0.030, -0.045, -0.025, -0.030, -0.026],
    [-0.026, -0.030, -0.024, -0.035, -0.030, -0.040, -0.022, -0.028],
]

legend_labels = ["DTC from ECMWF Interim", "TOPEX", "Jason-1", "Jason-2", "Jason-3"]
caption_line1 = [
    ("FIGURE 3", "bold"),
    (" | Atmospheric path delay correction of T/P-Jason1/2/3.", "normal"),
    (" (A)", "bold"),
    (" Dry troposphere correction (DTC).", "normal"),
    (" (B)", "bold"),
    (" Wet troposphere correction (WTC).", "normal"),
    (" (C)", "bold"),
    (" Ionosphere", "normal"),
]
caption_line2 = [("correction (IC).", "normal")]

# ---------------- styling ----------------
BLUE, GREEN, LIGHTBLUE = "#0000ff", "#00e600", "#a9d6e5"
RED_STYLE = dict(marker="o", s=15, color="#ff0000", edgecolor="none", linewidth=0)
TOPEX_STYLE = dict(marker="o", s=46, color=BLUE, facecolor="none", edgecolor=BLUE, linewidth=0.75)
J1_STYLE = dict(marker="^", s=58, color=GREEN, facecolor="none", edgecolor=GREEN, linewidth=0.9)
J2_STYLE = dict(marker="s", s=44, color="black", facecolor="none", edgecolor="black", linewidth=0.9)
J3_STYLE = dict(marker="D", s=42, color=LIGHTBLUE, facecolor="none", edgecolor=LIGHTBLUE, linewidth=0.9)

sns.set_theme(style="ticks")
plt.rcParams["font.family"] = ["Liberation Serif", "DejaVu Serif"]
plt.rcParams["axes.unicode_minus"] = True
SANS = ["Liberation Sans", "DejaVu Sans"]

W, H = 1357, 744
fig = plt.figure(figsize=(W / 100, H / 100), dpi=100, facecolor="white")


def px_axes(left, top, right, bottom):
    return fig.add_axes([left / W, 1 - bottom / H, (right - left) / W, (bottom - top) / H])


def yearly(years, rows, per_year, shift=0.5):
    t, v = [], []
    for y, row in zip(years, rows):
        for k, val in enumerate(row):
            t.append(y + (k + shift) / per_year)
            v.append(val)
    return pd.DataFrame({"year": t, "value": v}).dropna()


def draw(ax, years, row_sets, style, per_year=8, shift=0.5, z=2):
    for rows in row_sets:
        df = yearly(years, rows, per_year, shift)
        sns.scatterplot(data=df, x="year", y="value", ax=ax, legend=False, zorder=z, **style)


def fmt(v, pos):
    if abs(v) < 1e-9:
        return "0.00"
    return f"{v:.2f}".replace("-", "\u2212")


axA = px_axes(261, 27, 1213, 186)
axB = px_axes(261, 222, 1213, 380)
axC = px_axes(261, 417, 1213, 573)

# panel A
draw(axA, topex_years, [topex_dtc_a, topex_dtc_b], TOPEX_STYLE, z=2)
draw(axA, ecmwf_years, [dtc_ecmwf_hi], RED_STYLE, per_year=12, shift=0.2, z=3)
draw(axA, ecmwf_years, [dtc_ecmwf_mid], RED_STYLE, per_year=12, shift=0.5, z=3)
draw(axA, ecmwf_years, [dtc_ecmwf_lo], RED_STYLE, per_year=12, shift=0.8, z=3)
draw(axA, jason1_years, [jason1_dtc_a, jason1_dtc_c, jason1_dtc_b], J1_STYLE, z=4)
draw(axA, jason2_years, [jason2_dtc_a, jason2_dtc_c, jason2_dtc_b], J2_STYLE, z=5)
draw(axA, jason3_years, [jason3_dtc_a, jason3_dtc_c, jason3_dtc_b], J3_STYLE, z=6)

# panel B
draw(axB, topex_years, [topex_wtc_a, topex_wtc_b, topex_wtc_c], TOPEX_STYLE)
draw(axB, jason1_years, [jason1_wtc_a, jason1_wtc_b, jason1_wtc_c], J1_STYLE, z=3)
draw(axB, jason2_years, [jason2_wtc_a, jason2_wtc_b, jason2_wtc_c], J2_STYLE, z=4)
draw(axB, jason3_years, [jason3_wtc_a, jason3_wtc_b, jason3_wtc_c], J3_STYLE, z=5)

# panel C
draw(axC, topex_years, [topex_ic_a, topex_ic_b, topex_ic_c], TOPEX_STYLE)
draw(axC, jason1_years, [jason1_ic_a, jason1_ic_b, jason1_ic_c], J1_STYLE, z=3)
draw(axC, jason2_years, [jason2_ic_a, jason2_ic_b, jason2_ic_c], J2_STYLE, z=4)
draw(axC, jason3_years, [jason3_ic_a, jason3_ic_b], J3_STYLE, z=5)

setup = [
    (axA, (-1.40, -1.18), [-1.40, -1.35, -1.30, -1.25, -1.20], 0.005, "DTC (m)", "A"),
    (axB, (-0.109, 0.0), [-0.10, -0.05, 0.0], 0.01, "WTC (m)", "B"),
    (axC, (-0.153, 0.0), [-0.15, -0.10, -0.05, 0.0], 0.01, "IC (m)", "C"),
]
for ax, ylim, yt, yminor, ylab, letter in setup:
    ax.set_facecolor("white")
    ax.grid(False)
    ax.set_xlim(1991, 2020)
    ax.set_ylim(*ylim)
    ax.xaxis.set_major_locator(FixedLocator([1995, 2000, 2005, 2010, 2015]))
    ax.xaxis.set_minor_locator(MultipleLocator(1))
    ax.yaxis.set_major_locator(FixedLocator(yt))
    ax.yaxis.set_minor_locator(MultipleLocator(yminor))
    ax.yaxis.set_major_formatter(FuncFormatter(fmt))
    ax.tick_params(which="both", direction="out", top=False, right=False,
                   width=1.1, color="black", labelsize=19, labelcolor="black")
    ax.tick_params(axis="x", which="major", length=6, pad=5)
    ax.tick_params(axis="x", which="minor", length=3.6)
    ax.tick_params(axis="y", which="major", length=5, pad=8)
    ax.tick_params(axis="y", which="minor", length=2.6)
    for sp in ax.spines.values():
        sp.set_visible(True)
        sp.set_linewidth(2.2)
        sp.set_color("black")
    ax.set_xlabel("")
    ax.set_ylabel(ylab, fontsize=21, color="black")
    ax.yaxis.set_label_coords(-0.10, 0.5)
    pos = ax.get_position()
    fig.text(143 / W, pos.y1 - 7 / H, letter, family=SANS, fontweight="bold",
             fontsize=13, va="center", ha="left", color="black")

axA.tick_params(labelbottom=False)
axB.tick_params(labelbottom=False)
axC.set_xlabel("year", fontsize=20, color="black")
axC.xaxis.set_label_coords(0.5, -0.30)

# legend
handles = [
    Line2D([], [], ls="none", marker="o", ms=5.5, mfc="#ff0000", mec="#ff0000"),
    Line2D([], [], ls="none", marker="o", ms=10, mfc="none", mec=BLUE, mew=1.1),
    Line2D([], [], ls="none", marker="^", ms=10, mfc="none", mec=GREEN, mew=1.1),
    Line2D([], [], ls="none", marker="s", ms=8.5, mfc="none", mec="black", mew=1.1),
    Line2D([], [], ls="none", marker="D", ms=7.6, mfc="none", mec=LIGHTBLUE, mew=1.1),
]
leg = axA.legend(handles, legend_labels, loc="lower left", bbox_to_anchor=(0.047, 0.031),
                 ncol=5, frameon=True, fancybox=False, framealpha=1, edgecolor="black",
                 fontsize=13.5, handlelength=0.8, handletextpad=0.45, columnspacing=3.2,
                 borderpad=0.4, borderaxespad=0,
                 shadow={"facecolor": "0.6", "edgecolor": "none", "alpha": 1, "ox": 2, "oy": -2})
leg.get_frame().set_linewidth(0.8)
leg.set_zorder(10)

# caption
renderer = fig.canvas.get_renderer()
CAP_COLOR = "#231f20"


def line_width(pieces, size):
    total = 0
    for txt, weight in pieces:
        t = fig.text(0, 0, txt, fontsize=size, fontweight=weight, family=SANS)
        total += t.get_window_extent(renderer).width
        t.remove()
    return total


def caption(pieces, y, size):
    x = 24
    for txt, weight in pieces:
        t = fig.text(x / W, 1 - y / H, txt, fontsize=size, fontweight=weight, family=SANS,
                     va="center", ha="left", color=CAP_COLOR)
        x += t.get_window_extent(renderer).width


cap_size = 11 * 1279 / line_width(caption_line1, 11)
caption(caption_line1, 702, cap_size)
caption(caption_line2, 729, cap_size)

fig.savefig("out.png", dpi=100, facecolor="white")
